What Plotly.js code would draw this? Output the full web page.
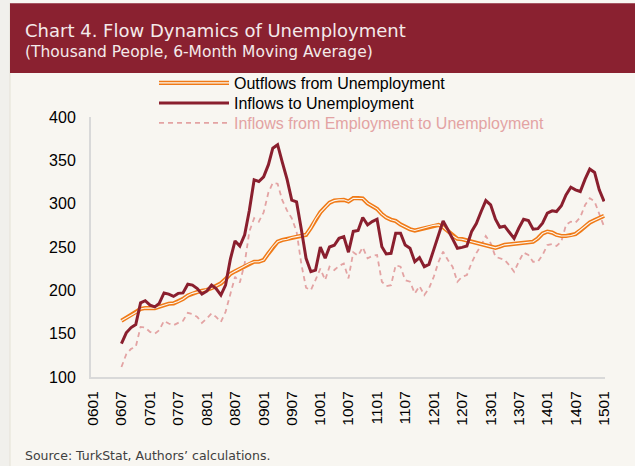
<!DOCTYPE html>
<html>
<head>
<meta charset="utf-8">
<script src="https://cdn.plot.ly/plotly-3.0.1.min.js"></script>
<style>
html,body{margin:0;padding:0;background:#F8F6F1;}
#chart{width:635px;height:466px;}
</style>
</head>
<body>
<div id="chart"></div>
<script>
// Monthly data, first month = 2006-07, last month = 2015-01
const firstYear = 2006;
const firstMonthIndex = 6; // July (0-based)

const outflows = [
  164.8,168,171.5,174.5,178.5,179.6,179.5,179.5,181,183,184.5,185,
  187,190,194,196.5,198,199.5,200.3,202.5,205,208,213,219,
  222,225,228,231,233,233,235,242.7,250,256,258,259,
  261,262,262.7,264,272,282,290,296,301,303.5,304.4,304.4,
  302.5,306.3,306.3,306,300.5,297,294,288,284,281.5,280,276,
  273,270.5,269,270.5,271.5,273,275,275.5,273,268,263,259.5,
  259,257.5,256,255,253.5,251.5,250,249,250.5,252.5,253,253.5,
  254.5,255,255,256,260,265.5,267.8,266.6,264,262.7,262.7,263.3,
  265,269,274,278.2,281,283.5,286
];

const inflows = [
  138.6,151,157,160.5,185.6,188,183,181,185,197,195.6,193,
  196.5,197,207,206,202,195.6,199,206,202,194.5,206,236,
  257,251,264,292,327.5,325.6,331,345,364,368,348,328,
  304,302,270,237,221.5,223.4,250,237,250,252,260,262,
  244,268,269,284,275.5,279.3,282,250.4,242,242.7,266,266,
  252.3,248.5,233,237.7,227.3,230,247,265,280,270,260,248.5,
  249.6,251.2,268,277,291,303.6,298.6,282,272.8,274,267,260,
  271.6,282,280.5,270.5,271.2,277.4,289,291.7,290.9,297.5,310.2,319,
  316,314,328.3,339.9,336,316,302.5
];

const empToUnemp = [
  111.6,126.2,132.5,134.7,157.8,157,152,150.1,154,164.8,161.7,159.8,
  162.5,164.8,174,172.5,169.4,162.5,167.5,173.3,169.4,163.6,175.2,196.4,
  215.7,209,231,267.8,283.2,279.3,290,313,324,323,304,292,
  283.2,267.8,230,203,200.3,212,225,211.8,227.3,223.4,228,231,
  213.8,244,240,249.6,236.9,239.6,240.8,209.9,204.9,206,229,227.3,
  211.8,209.9,196.4,204.9,194.5,202.2,215.7,233,244.6,235,227.3,209.9,
  215.7,217.6,232,243,252,262.7,254.3,238.8,236.9,235,229,221.5,
  233,243.5,240.8,233,233,240.8,252.3,253.5,251.2,256.2,275.5,279.3,
  278.2,284.3,298.6,306.3,302.5,289,273.5
];

const seriesNames = [
  'Outflows from Unemployment',
  'Inflows to Unemployment',
  'Inflows from Employment to Unemployment'
];

const titleText = 'Chart 4. Flow Dynamics of Unemployment';
const subtitleText = '(Thousand People, 6-Month Moving Average)';
const sourceText = 'Source: TurkStat, Authors’ calculations.';

function pad(n){return (n<10?'0':'')+n;}
const months = inflows.map((_, i) => {
  const m = firstMonthIndex + i;
  const y = firstYear + Math.floor(m / 12);
  return y + '-' + pad(m % 12 + 1) + '-01';
});

// pixel helpers for placing decorations (plot area: x 91..605, y 117..377)
const L = 91, R = 605, T = 117, B = 377;
const px = x => (x - L) / (R - L);
const py = y => (B - y) / (B - T);

const colDark = '#8A1F2E';
const colOrange = '#F07A17';
const colPink = '#E3A3A3';
const bg = '#F8F6F1';
const core = '#FBF7F0';

const legendFont = {family: '"Liberation Sans", Arial, sans-serif', size: 16, color: '#000'};
function legendAt(topPx) {
  return {
    x: px(154), y: py(topPx), xanchor: 'left', yanchor: 'top',
    bgcolor: 'rgba(0,0,0,0)', borderwidth: 0,
    font: legendFont, itemwidth: 70, tracegroupgap: 0
  };
}

const traces = [
  {
    x: months, y: empToUnemp, type: 'scatter', mode: 'lines',
    name: '<span style="color:' + colPink + '">' + seriesNames[2] + '</span>',
    line: {color: colPink, width: 1.8, dash: '5px,4px'},
    legend: 'legend4', hoverinfo: 'skip'
  },
  {
    x: months, y: outflows, type: 'scatter', mode: 'lines',
    name: seriesNames[0],
    line: {color: colOrange, width: 4.2},
    legend: 'legend', hoverinfo: 'skip'
  },
  {
    x: months, y: outflows, type: 'scatter', mode: 'lines',
    name: ' ', legend: 'legend2',
    line: {color: core, width: 1.1},
    hoverinfo: 'skip'
  },
  {
    x: months, y: inflows, type: 'scatter', mode: 'lines',
    name: seriesNames[1],
    line: {color: colDark, width: 3},
    legend: 'legend3', hoverinfo: 'skip'
  }
];

const tickFont = {family: '"Liberation Sans", Arial, sans-serif', size: 16, color: '#000'};

const layout = {
  width: 635, height: 466,
  margin: {l: L, r: 635 - R, t: T, b: 466 - B, pad: 0},
  paper_bgcolor: bg, plot_bgcolor: bg,
  font: {family: '"Liberation Sans", Arial, sans-serif', size: 14, color: '#000'},
  showlegend: true,
  legend: legendAt(66),
  legend2: legendAt(66),
  legend3: legendAt(86),
  legend4: legendAt(106),
  xaxis: {
    type: 'date',
    range: ['2005-12-17', '2015-01-07'],
    tick0: '2006-01-01', dtick: 'M6', tickformat: '%y%m',
    tickangle: -90, ticks: '', showgrid: false, zeroline: false,
    showline: true, linecolor: '#D9D9D9', linewidth: 2,
    tickfont: Object.assign({}, tickFont, {size: 15.5}),
    ticklabelstandoff: 6
  },
  yaxis: {
    range: [100, 400], dtick: 50, tick0: 100,
    ticks: '', showgrid: false, zeroline: false,
    showline: true, linecolor: '#D9D9D9', linewidth: 2,
    tickfont: tickFont,
    ticklabelstandoff: 10
  },
  shapes: [
    {type: 'rect', xref: 'paper', yref: 'paper', layer: 'below',
     x0: px(-2), x1: px(10), y0: py(470), y1: py(-2),
     fillcolor: '#F1F0EC', line: {width: 0}},
    {type: 'line', xref: 'paper', yref: 'paper', layer: 'below',
     x0: px(10), x1: px(10), y0: py(470), y1: py(3),
     line: {color: '#E4E1D6', width: 1}},
    {type: 'rect', xref: 'paper', yref: 'paper', layer: 'below',
     x0: px(10), x1: px(640), y0: py(73), y1: py(3.3),
     fillcolor: '#8A2130', line: {width: 0}}
  ],
  annotations: [
    {text: titleText, xref: 'paper', yref: 'paper', x: px(23), y: py(30.5),
     xanchor: 'left', yanchor: 'middle', showarrow: false,
     font: {family: '"DejaVu Sans", sans-serif', size: 18, color: '#F4EAEA'}},
    {text: subtitleText, xref: 'paper', yref: 'paper', x: px(23), y: py(51.5),
     xanchor: 'left', yanchor: 'middle', showarrow: false,
     font: {family: '"DejaVu Sans", sans-serif', size: 15.5, color: '#F4EAEA'}},
    {text: sourceText, xref: 'paper', yref: 'paper', x: px(23), y: py(455),
     xanchor: 'left', yanchor: 'middle', showarrow: false,
     font: {family: '"DejaVu Sans", sans-serif', size: 12.5, color: '#404040'}}
  ]
};

Plotly.newPlot('chart', traces, layout, {staticPlot: true, displayModeBar: false});
</script>
</body>
</html>
